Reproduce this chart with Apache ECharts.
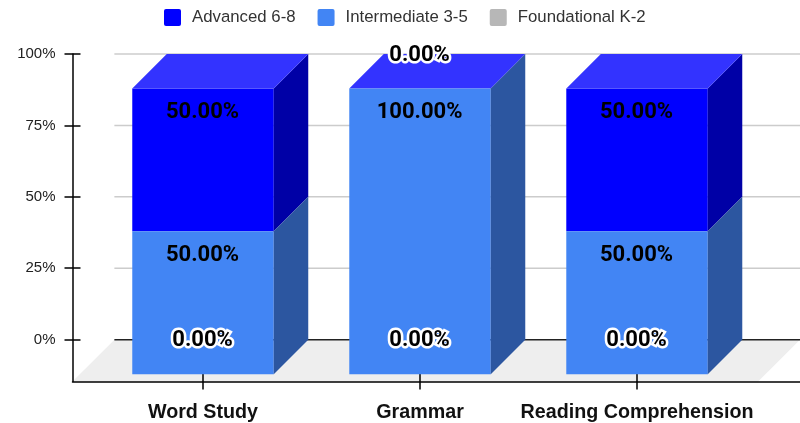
<!DOCTYPE html>
<html>
<head>
<meta charset="utf-8">
<style>html,body{margin:0;padding:0;background:#fff}#chart{width:800px;height:423px}</style>
<script src="https://cdn.jsdelivr.net/npm/echarts@6/dist/echarts.min.js"></script>
</head>
<body>
<div id="chart"></div>
<script>
const categories = ['Word Study', 'Grammar', 'Reading Comprehension'];
const advanced = [50, 0, 50];
const intermediate = [50, 100, 50];
const foundational = [0, 0, 0];
const yTicks = [0, 25, 50, 75, 100];

// 3D look: every box is pushed forward and left from the back wall
const DEPTH = 34.5;
const BAR_HALF = 0.326;
const Y_MIN = -14.66;
const X_MIN = -0.6014;
const X_MAX = 2.751;

const chart = echarts.init(document.getElementById('chart'));

function poly(points, fill) {
    return { type: 'polygon', shape: { points: points }, style: { fill: fill } };
}

function boxSeries(name, values, below, front, side, top) {
    return {
        name: name,
        type: 'custom',
        z: 3,
        itemStyle: { color: front },
        encode: { x: 0, y: [1, 2] },
        data: values.map((v, i) => [i, below[i], below[i] + v, v]),
        renderItem: function (params, api) {
            const i = api.value(0);
            const start = api.value(1);
            const end = api.value(2);
            const value = api.value(3);
            const l = api.coord([i - BAR_HALF, start]);
            const r = api.coord([i + BAR_HALF, end]);
            const x0 = l[0], x1 = r[0], yBack0 = l[1], yBack1 = r[1];
            const y0 = yBack0 + DEPTH, y1 = yBack1 + DEPTH;
            const children = [];
            if (value > 0) {
                children.push(poly([[x0, y1], [x1, y1], [x1, y0], [x0, y0]], front));
                children.push(poly([[x1, y1], [x1 + DEPTH, yBack1], [x1 + DEPTH, yBack0], [x1, y0]], side));
            }
            if (top && end === 100) {
                children.push(poly([[x0, y1], [x0 + DEPTH, yBack1], [x1 + DEPTH, yBack1], [x1, y1]], top));
            }
            const zero = value === 0;
            children.push({
                type: 'text',
                z2: 10,
                style: {
                    text: value.toFixed(2) + '%',
                    x: (x0 + x1) / 2 - 0.5,
                    y: zero ? yBack1 + 1 : y1 + 24,
                    align: 'center',
                    verticalAlign: 'middle',
                    font: 'bold 22px Roboto',
                    fill: '#000',
                    stroke: zero ? '#fff' : null,
                    lineWidth: zero ? 5 : 0
                }
            });
            return { type: 'group', children: children };
        }
    };
}

const belowIntermediate = foundational;
const belowAdvanced = intermediate.map((v, i) => v + foundational[i]);

chart.setOption({
    animation: false,
    legend: {
        data: ['Advanced 6-8', 'Intermediate 3-5', 'Foundational K-2'],
        top: 4,
        left: 159,
        itemWidth: 17,
        itemHeight: 17,
        itemGap: 22,
        icon: 'path://M2,0H15Q17,0 17,2V15Q17,17 15,17H2Q0,17 0,15V2Q0,0 2,0Z',
        textStyle: { fontFamily: 'Liberation Sans', fontSize: 16.8, color: '#333', padding: [0, 0, 0, 6] }
    },
    grid: { left: 72.5, right: 0, top: 54, bottom: 40.5 },
    xAxis: [
        {
            type: 'value', min: X_MIN, max: X_MAX,
            axisLine: { onZero: false, lineStyle: { color: '#000', width: 1.5 } },
            axisTick: { customValues: [0, 1, 2], length: 8, lineStyle: { color: '#000', width: 1.5 } },
            axisLabel: {
                customValues: [0, 1, 2],
                formatter: v => categories[v],
                margin: 21.5,
                fontFamily: 'Liberation Sans', fontWeight: 'bold', fontSize: 19.7, color: '#111'
            },
            splitLine: { show: false }
        },
        {
            type: 'value', min: X_MIN, max: X_MAX, position: 'bottom',
            axisLine: { show: false, onZero: false },
            axisTick: { show: true, inside: true, customValues: [0, 1, 2], length: 8, lineStyle: { color: '#000', width: 1.5 } },
            axisLabel: { show: false },
            splitLine: { show: false }
        }
    ],
    yAxis: [
        {
            type: 'value', min: Y_MIN, max: 100,
            axisLine: { show: true, onZero: false, lineStyle: { color: '#000', width: 1.5 } },
            axisTick: { show: true, customValues: yTicks, length: 8, lineStyle: { color: '#000', width: 1.5 } },
            axisLabel: {
                customValues: yTicks,
                formatter: v => v + '%',
                margin: 17,
                padding: [4, 0, 0, 0],
                fontFamily: 'Liberation Sans', fontSize: 15, color: '#222'
            },
            splitLine: { show: false }
        },
        {
            type: 'value', min: Y_MIN, max: 100, position: 'left',
            axisLine: { show: false, onZero: false },
            axisTick: { show: true, inside: true, customValues: yTicks, length: 8, lineStyle: { color: '#000', width: 1.5 } },
            axisLabel: { show: false },
            splitLine: { show: false }
        }
    ],
    series: [
        {
            // floor and back wall lines
            name: 'backdrop',
            type: 'custom',
            z: -1,
            silent: true,
            encode: { y: 0 },
            data: yTicks.map(v => [v]),
            renderItem: function (params, api) {
                const v = api.value(0);
                const p = api.coord([X_MIN, v]);
                const end = api.coord([X_MAX, v]);
                const floorFront = api.coord([X_MIN, Y_MIN]);
                const depth = floorFront[1] - api.coord([X_MIN, 0])[1];
                const children = [{
                    type: 'line',
                    shape: { x1: floorFront[0] + depth, y1: p[1], x2: end[0], y2: p[1] },
                    style: { stroke: v === 0 ? '#222' : '#ccc', lineWidth: 1.5 },
                    z2: 2
                }];
                if (v === 0) {
                    children.push(poly([
                        [floorFront[0], floorFront[1]],
                        [floorFront[0] + depth, p[1]],
                        [end[0], p[1]],
                        [end[0] - depth, floorFront[1]]
                    ], '#eeeeee'));
                }
                return { type: 'group', children: children };
            }
        },
        boxSeries('Advanced 6-8', advanced, belowAdvanced, '#0000ff', '#0000a6', '#3333ff'),
        boxSeries('Intermediate 3-5', intermediate, belowIntermediate, '#4285f4', '#2c56a0', null),
        boxSeries('Foundational K-2', foundational, foundational, '#b7b7b7', '#808080', null)
    ]
});
</script>
</body>
</html>
